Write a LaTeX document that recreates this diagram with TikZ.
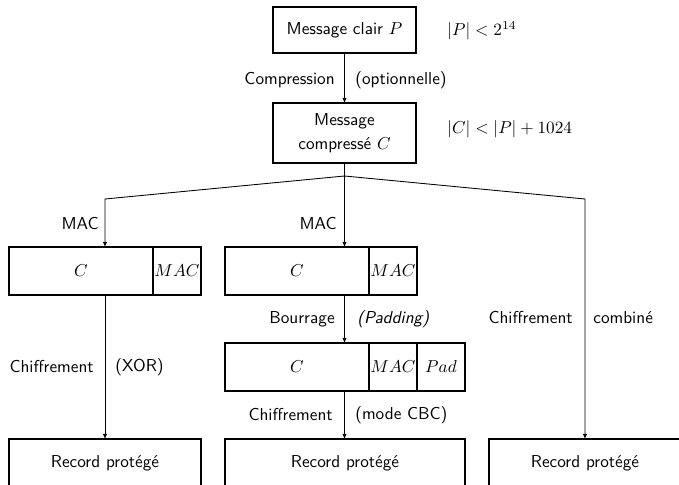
\documentclass[tikz,border=0pt]{standalone}
\usepackage{fontspec}
\usetikzlibrary{arrows.meta}
\begin{document}
\begin{tikzpicture}[x=0.58pt,y=-0.58pt,
  font=\sffamily,
  box/.style={draw,line width=0.6pt,inner sep=0pt,outer sep=0pt,align=center},
  sz/.style 2 args={minimum width=#1*0.58pt,minimum height=#2*0.58pt},
  lbl/.style={inner sep=0pt},
  link/.style={line width=0.5pt},
  flow/.style={line width=0.5pt,-{Latex[length=3pt,width=2.6pt]}}]
\clip (0,0) rectangle (679,485);

% message boxes
\node[box,sz={143}{46}] (msg) at (344.5,30) {Message clair $P$};
\node[box,sz={143}{60}] (cmp) at (344.5,133) {Message\\[2pt]compressé $C$};
\node[lbl,anchor=west] (limP) at (447,31) {$|P| < 2^{14}$};
\node[lbl,anchor=west] (limC) at (447,129) {$|C| < |P| + 1024$};

% records with MAC (and padding)
\node[box,sz={144}{48}] (lC) at (81,271) {$C$};
\node[box,sz={48}{48}] (lM) at (177,271) {$MAC$};
\node[box,sz={144}{48}] (mC) at (297,271) {$C$};
\node[box,sz={48}{48}] (mM) at (393,271) {$MAC$};
\node[box,sz={144}{48}] (pC) at (297,367) {$C$};
\node[box,sz={48}{48}] (pM) at (393,367) {$MAC$};
\node[box,sz={48}{48}] (pP) at (441,367) {$Pad$};

% protected records
\node[box,sz={192}{48}] (rL) at (105,463) {Record protégé};
\node[box,sz={240}{48}] (rM) at (345,463) {Record protégé};
\node[box,sz={192}{48}] (rR) at (585,463) {Record protégé};

% branching points
\coordinate (br) at (344.5,176);
\coordinate (bL) at (105,199);
\coordinate (bR) at (585,199);

% connectors
\draw[flow] (msg) -- (cmp);
\draw[link] (cmp) -- (br);
\draw[flow] (br) -- (bL) -- (bL |- lC.north);
\draw[flow] (br) -- (br |- mC.north);
\draw[flow] (br) -- (bR) -- (rR.north);
\draw[flow] (bL |- lC.south) -- (rL.north);
\draw[flow] (br |- mC.south) -- (br |- pC.north);
\draw[flow] (br |- pC.south) -- (br |- rM.north);

% connector labels
\node[lbl,anchor=east] (tComp) at (335,80) {Compression};
\node[lbl,anchor=west] (tOpt) at (355,80) {(optionnelle)};
\node[lbl,anchor=east] (tMacL) at (99,224) {MAC};
\node[lbl,anchor=east] (tMacM) at (337,224) {MAC};
\node[lbl,anchor=east] (tBour) at (335,319) {Bourrage};
\node[lbl,anchor=west] (tPad) at (357,319) {\textit{(Padding)}};
\node[lbl,anchor=east] (tChM) at (333,415) {Chiffrement};
\node[lbl,anchor=west] (tCBC) at (355,415) {(mode CBC)};
\node[lbl,anchor=east] (tChL) at (94,367) {Chiffrement};
\node[lbl,anchor=west] (tXor) at (115,367) {(XOR)};
\node[lbl,anchor=east] (tChR) at (573,318) {Chiffrement};
\node[lbl,anchor=west] (tComb) at (593,318) {combiné};
\end{tikzpicture}
\end{document}
